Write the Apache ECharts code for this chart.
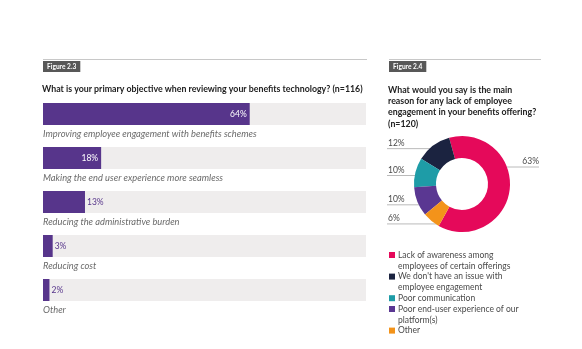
<!DOCTYPE html>
<html><head><meta charset="utf-8">
<script src="https://cdn.jsdelivr.net/npm/echarts@6/dist/echarts.min.js"></script>
<style>html,body{margin:0;padding:0;background:#fff}#c{width:582px;height:349px}</style>
</head><body><div id="c"></div>
<script>
// ---- data ----
const barCategories = [
  'Improving employee engagement with benefits schemes',
  'Making the end user experience more seamless',
  'Reducing the administrative burden',
  'Reducing cost',
  'Other'
];
const barValues = [64, 18, 13, 3, 2];

const pieNames = [
  'Lack of awareness among\nemployees of certain offerings',
  "We don't have an issue with\nemployee engagement",
  'Poor communication',
  'Poor end-user experience of our\nplatform(s)',
  'Other'
];
const pieValues = [63, 12, 10, 10, 6];

// ---- styles ----
const FONT = 'Lato';
const PURPLE = '#57358b';
const pieColors = ['#e5095a', '#1b2340', '#1e9ca7', '#5a3792', '#f3931a'];
const PIE_CX = 462, PIE_CY = 184, PIE_R0 = 26, PIE_R1 = 48;
const LEG_L = 10.8, LEG_FIRST = 255;

const chart = echarts.init(document.getElementById('c'), null, {renderer: 'canvas'});

let cum = 0;
const legends = pieNames.map(function (n) {
  const lines = n.split('\n').length;
  const center = LEG_FIRST + cum * LEG_L;
  cum += lines;
  const top = lines > 1 ? center - 1.5 * LEG_L : center - LEG_L / 2;
  return {
    orient: 'vertical', left: 389, top: top, padding: 0,
    itemWidth: 6, itemHeight: 6, icon: 'rect', selectedMode: false,
    data: [n],
    formatter: lines > 1 ? function (s) { return '\n' + s; } : function (s) { return s; },
    textStyle: {fontFamily: FONT, fontSize: 8.5, lineHeight: LEG_L, color: '#4a4a4a', padding: [0, 0, 0, -2]}
  };
});

const badge = function (txt, x) {
  return {
    text: txt, left: x, top: 61, padding: [2, 4, 2, 4], backgroundColor: '#585858',
    textStyle: {fontFamily: FONT, fontSize: 6.6, fontWeight: 'bold', color: '#fff', lineHeight: 7}
  };
};

const option = {
  animation: false,
  backgroundColor: '#ffffff',
  title: [
    badge('Figure 2.3', 43),
    badge('Figure 2.4', 389),
    {
      text: 'What is your primary objective when reviewing your benefits technology? (n=116)',
      left: 42, top: 84, padding: 0,
      textStyle: {fontFamily: FONT, fontSize: 8.8, fontWeight: 'bold', color: '#222', lineHeight: 11}
    },
    {
      text: 'What would you say is the main\nreason for any lack of employee\nengagement in your benefits offering?\n(n=120)',
      left: 388, top: 84.5, padding: 0,
      textStyle: {fontFamily: FONT, fontSize: 8.8, fontWeight: 'bold', color: '#222', lineHeight: 11.2}
    }
  ],
  graphic: [
    {type: 'line', shape: {x1: 43, y1: 59.5, x2: 367, y2: 59.5}, style: {stroke: '#c8c8c8', lineWidth: 1}},
    {type: 'line', shape: {x1: 389, y1: 59.5, x2: 541, y2: 59.5}, style: {stroke: '#c8c8c8', lineWidth: 1}}
  ],
  legend: legends,
  grid: {left: 43, top: 92, width: 323, height: 220, containLabel: false},
  xAxis: {type: 'value', min: 0, max: 100, show: false},
  yAxis: {
    type: 'category', data: barCategories, inverse: true,
    axisLine: {show: false}, axisTick: {show: false}, splitLine: {show: false},
    axisLabel: {
      show: true, interval: 0, hideOverlap: false,
      inside: true, margin: 0, align: 'left', verticalAlign: 'top',
      formatter: function (v) { return '{t|' + v + '}'; },
      rich: {t: {fontFamily: FONT, fontStyle: 'italic', fontSize: 9.3, color: '#6a6a6a', padding: [15.5, 0, 0, 0]}}
    }
  },
  series: [
    {
      type: 'bar', barWidth: 22,
      showBackground: true, backgroundStyle: {color: '#efeded'},
      itemStyle: {color: PURPLE},
      label: {show: true, formatter: '{c}%', fontFamily: FONT, fontSize: 8.5},
      data: barValues.map(function (v) {
        return v >= 15
          ? {value: v, label: {position: 'insideRight', distance: 3, color: '#ffffff'}}
          : {value: v, label: {position: 'right', distance: 2, color: PURPLE}};
      })
    },
    {
      type: 'pie', center: [PIE_CX, PIE_CY], radius: [PIE_R0, PIE_R1],
      clockwise: false, startAngle: 241,
      avoidLabelOverlap: false,
      label: {show: true, position: 'outside', formatter: '{c}%', fontFamily: FONT, fontSize: 8.5, color: '#4a4a4a'},
      labelLine: {show: true, length: 5, length2: 5, smooth: false, lineStyle: {color: '#a8a8a8', width: 0.8}},
      labelLayout: function (p) {
        const pts = p.labelLinePoints;
        if (!pts) return {};
        let s = pts[0];
        if (s[0] > PIE_CX) {
          const y = PIE_CY - 17;
          const x = PIE_CX + Math.sqrt(PIE_R1 * PIE_R1 - 17 * 17);
          return {x: 539, y: y - 1, align: 'right', verticalAlign: 'bottom',
            labelLinePoints: [[x, y], [x, y], [539, y]]};
        }
        const y = s[1] + 3;
        const dy = y - PIE_CY;
        const x = PIE_CX - Math.sqrt(Math.max(0, PIE_R1 * PIE_R1 - dy * dy)) + 6;
        return {x: 388, y: y - 1, align: 'left', verticalAlign: 'bottom',
          labelLinePoints: [[x, y], [x, y], [387, y]]};
      },
      data: pieNames.map(function (n, i) {
        return {name: n, value: pieValues[i], itemStyle: {color: pieColors[i]}};
      })
    }
  ]
};
chart.setOption(option);
</script>
</body></html>
